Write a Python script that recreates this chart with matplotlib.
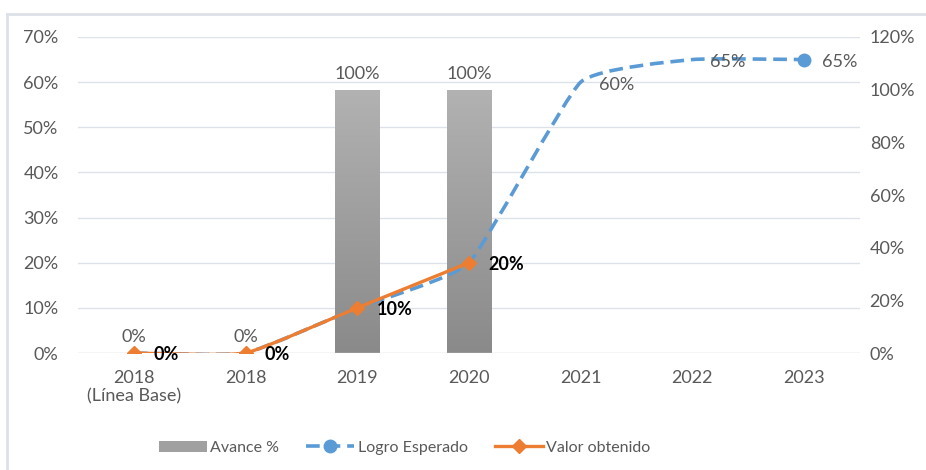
import numpy as np
import matplotlib.pyplot as plt
from matplotlib.path import Path
from matplotlib.patches import PathPatch, Patch
from matplotlib.lines import Line2D
from matplotlib.colors import LinearSegmentedColormap
from matplotlib.ticker import PercentFormatter

plt.rcParams['font.family'] = ['Lato', 'DejaVu Sans']

categorias = ["2018\n(Línea Base)", "2018", "2019", "2020", "2021", "2022", "2023"]
avance = [0, 0, 100, 100]            # eje derecho (%)
logro_esperado = [0, 0, 10, 20, 60, 65, 65]   # eje izquierdo (%)
valor_obtenido = [0, 0, 10, 20]      # eje izquierdo (%)

gris_txt = "#595959"
azul = "#5b9bd5"
naranja = "#ed7d31"
fs = 13


def smooth_path(xs, ys, k=0.07):
    # curva tipo "linea suavizada" de Excel (Catmull-Rom -> Bezier)
    pts = np.column_stack([xs, ys]).astype(float)
    verts = [pts[0]]
    codes = [Path.MOVETO]
    n = len(pts)
    for i in range(n - 1):
        p0 = pts[max(i - 1, 0)]
        p1 = pts[i]
        p2 = pts[i + 1]
        p3 = pts[min(i + 2, n - 1)]
        verts += [p1 + (p2 - p0) * k, p2 - (p3 - p1) * k, p2]
        codes += [Path.CURVE4] * 3
    return Path(verts, codes)


fig = plt.figure(figsize=(9.26, 4.70), dpi=100)
ax = fig.add_axes([0.0842, 0.2489, 0.8445, 0.6724])
ax2 = ax.twinx()
ax2.set_zorder(0)
ax.set_zorder(1)
ax.patch.set_visible(False)

x = np.arange(len(categorias))

# lineas de cuadricula (debajo de las barras)
for yv in np.arange(10, 71, 10):
    ax2.axhline(yv * 120 / 70, color="#dde1e8", lw=1, zorder=0)

# barras (eje derecho) con degradado
bars = ax2.bar(x[:len(avance)], avance, width=0.4, color="none", edgecolor="none")
cmap = LinearSegmentedColormap.from_list("g", ["#8a8a8a", "#b2b2b2"])
grad = np.linspace(0, 1, 256).reshape(-1, 1)
for b, v in zip(bars, avance):
    if v <= 0:
        continue
    im = ax2.imshow(grad, cmap=cmap, origin="lower", aspect="auto",
                    extent=[b.get_x(), b.get_x() + b.get_width(), 0, v], zorder=1)
    im.set_clip_path(b)
for b, v in zip(bars, avance):
    ax2.text(b.get_x() + b.get_width() / 2, v + 3, f"{v}%", ha="center", va="bottom",
             fontsize=fs, color=gris_txt)

ax2.set_ylim(0, 120)
ax2.set_yticks(np.arange(0, 121, 20))
ax2.yaxis.set_major_formatter(PercentFormatter(decimals=0))

# logro esperado
ax.add_patch(PathPatch(smooth_path(x[:len(logro_esperado)], logro_esperado),
                       facecolor="none", edgecolor=azul, lw=2.6,
                       linestyle=(0, (3.8, 1.9)), capstyle="butt", zorder=2))
ax.plot(x[len(logro_esperado) - 1], logro_esperado[-1], "o", color=azul, ms=9, zorder=3)
for i in range(4, len(logro_esperado)):
    ax.annotate(f"{logro_esperado[i]}%", (x[i], logro_esperado[i]), xytext=(13, -2),
                textcoords="offset points", ha="left", va="center", fontsize=fs,
                color=gris_txt, zorder=4)

# valor obtenido
ax.add_patch(PathPatch(smooth_path(x[:len(valor_obtenido)], valor_obtenido),
                       facecolor="none", edgecolor=naranja, lw=2.4, zorder=3))
ax.plot(x[:len(valor_obtenido)], valor_obtenido, "D", color=naranja, ms=7, zorder=4)
for i, v in enumerate(valor_obtenido):
    ax.annotate(f"{v}%", (x[i], v), xytext=(14, -1), textcoords="offset points",
                ha="left", va="center", fontsize=fs, fontweight="bold", color="black",
                zorder=5)

ax.set_xlim(-0.5, len(categorias) - 0.5)
ax.set_ylim(0, 70)
ax.set_yticks(np.arange(0, 71, 10))
ax.yaxis.set_major_formatter(PercentFormatter(decimals=0))
ax.set_xticks(x)
ax.set_xticklabels(categorias)

for a in (ax, ax2):
    for s in a.spines.values():
        s.set_visible(False)
    a.tick_params(length=0, labelsize=fs, colors=gris_txt)
ax.tick_params(axis="y", pad=14)
ax2.tick_params(axis="y", pad=7)
ax.tick_params(axis="x", pad=12)
ax.axhline(0, color="#c9cdd4", lw=1, zorder=1)

handles = [
    Patch(facecolor="#a0a0a0", edgecolor="none"),
    Line2D([], [], color=azul, lw=2.6, linestyle=(0, (3.8, 1.9)), marker="o", ms=9,
           markevery=[1]),
    Line2D([], [], color=naranja, lw=2.4, marker="D", ms=7, markevery=[1]),
]
fig.legend(handles, ["Avance %", "Logro Esperado", "Valor obtenido"], loc="center",
           bbox_to_anchor=(0.437, 0.047), ncol=3, frameon=False, fontsize=11.5,
           labelcolor=gris_txt, handlelength=3.0, handletextpad=0.2, columnspacing=1.7)

# marco del grafico
fig.add_artist(Line2D([7 / 926, 7 / 926], [0, 1 - 14 / 470], color="#dde1e8", lw=2))
fig.add_artist(Line2D([7 / 926, 1], [1 - 14 / 470, 1 - 14 / 470], color="#dde1e8", lw=2))

fig.savefig("out.png", dpi=100)
